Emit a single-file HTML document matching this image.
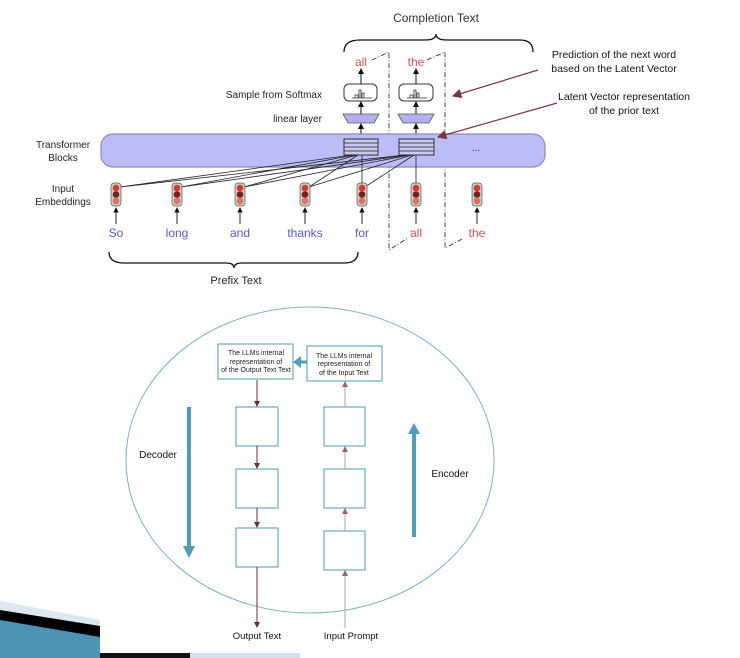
<!DOCTYPE html>
<html><head><style>
html,body{margin:0;padding:0;background:#fff;}
svg{display:block;font-family:"Liberation Sans",Arial,sans-serif;}
</style></head><body>
<svg width="740" height="658" viewBox="0 0 740 658" xmlns="http://www.w3.org/2000/svg">
<defs>
<marker id="ab" markerWidth="6" markerHeight="6" refX="5" refY="3" orient="auto"><path d="M0,0 L6,3 L0,6 z" fill="#111"/></marker>
<marker id="am" markerWidth="8" markerHeight="8" refX="7" refY="4" orient="auto"><path d="M0,0 L8,4 L0,8 z" fill="#7a3444"/></marker>
<marker id="ar" markerWidth="6" markerHeight="6" refX="5" refY="3" orient="auto"><path d="M0,0 L6,3 L0,6 z" fill="#6b2c3c"/></marker>
<marker id="ap" markerWidth="6" markerHeight="6" refX="5" refY="3" orient="auto"><path d="M0,0 L6,3 L0,6 z" fill="#a06070"/></marker>
</defs>

<!-- TOP DIAGRAM -->
<text x="436" y="22" font-size="12" text-anchor="middle" fill="#333">Completion Text</text>
<path d="M344,52 Q344,40 360,40 L425,40 Q436,40 436,34 Q436,40 447,40 L520,40 Q533,40 533,52" fill="none" stroke="#111" stroke-width="1.3"/>

<text x="361" y="66" font-size="12" text-anchor="middle" fill="#e05050">all</text>
<text x="416" y="66" font-size="12" text-anchor="middle" fill="#e05050">the</text>

<!-- dash-dot verticals -->
<path d="M372,60 L389,52 L389,250 L408,238" fill="none" stroke="#333" stroke-width="0.9" stroke-dasharray="5,2,1,2"/>
<path d="M427,60 L445,52 L445,248 L464,238" fill="none" stroke="#333" stroke-width="0.9" stroke-dasharray="5,2,1,2"/>

<text x="322" y="98" font-size="10" text-anchor="end" fill="#222">Sample from Softmax</text>
<text x="322" y="122" font-size="10" text-anchor="end" fill="#222">linear layer</text>

<g stroke="#333" fill="#fff">
<rect x="344" y="84" width="33" height="17" rx="5"/>
<rect x="399" y="84" width="34" height="17" rx="5"/>
</g>
<g stroke="#333" stroke-width="0.8" fill="none">
<path d="M355,98 v-3 h3 v3 M359,98 v-8 h2 v8 M362,98 v-5 h2 v5 M352,98 h20"/>
<path d="M410,98 v-3 h3 v3 M414,98 v-8 h2 v8 M417,98 v-5 h2 v5 M407,98 h20"/>
</g>
<polygon points="343,114 379,114 374,123 348,123" fill="#b3b0ee" stroke="#555" stroke-width="0.8"/>
<polygon points="398,114 434,114 429,123 403,123" fill="#b3b0ee" stroke="#555" stroke-width="0.8"/>
<g stroke="#111" stroke-width="1" marker-end="url(#ab)">
<line x1="361" y1="84" x2="361" y2="69"/><line x1="416" y1="84" x2="416" y2="69"/>
<line x1="361" y1="114" x2="361" y2="102"/><line x1="416" y1="114" x2="416" y2="102"/>
<line x1="361" y1="139" x2="361" y2="124"/><line x1="416" y1="139" x2="416" y2="124"/>
</g>

<text x="63" y="148" font-size="10" text-anchor="middle" fill="#222">Transformer</text>
<text x="63" y="161" font-size="10" text-anchor="middle" fill="#222">Blocks</text>
<rect x="101" y="134" width="444" height="33" rx="12" fill="#bcbcf6" stroke="#8a8ab8" stroke-width="1.2"/>
<text x="476" y="151" font-size="10" text-anchor="middle" fill="#333">...</text>

<g fill="#c9c9f3" stroke="#222" stroke-width="0.9">
<rect x="344" y="139" width="34" height="16"/><rect x="399" y="139" width="35" height="16"/>
</g>
<g stroke="#222" stroke-width="0.8">
<line x1="344" y1="143" x2="378" y2="143"/><line x1="344" y1="147" x2="378" y2="147"/><line x1="344" y1="151" x2="378" y2="151"/>
<line x1="399" y1="143" x2="434" y2="143"/><line x1="399" y1="147" x2="434" y2="147"/><line x1="399" y1="151" x2="434" y2="151"/>
</g>
<!-- attention lines -->
<g stroke="#222" stroke-width="0.8">
<line x1="120" y1="187" x2="352" y2="155"/><line x1="120" y1="187" x2="405" y2="155"/>
<line x1="181" y1="187" x2="355" y2="155"/><line x1="181" y1="187" x2="408" y2="155"/>
<line x1="244" y1="187" x2="357" y2="155"/><line x1="244" y1="187" x2="410" y2="155"/>
<line x1="309" y1="187" x2="358" y2="155"/><line x1="309" y1="187" x2="412" y2="155"/>
<line x1="365" y1="187" x2="414" y2="155"/>
<line x1="362" y1="183" x2="362" y2="155"/><line x1="416" y1="183" x2="416" y2="155"/>
</g>

<text x="63" y="192" font-size="10" text-anchor="middle" fill="#222">Input</text>
<text x="63" y="205" font-size="10" text-anchor="middle" fill="#222">Embeddings</text>

<g id="tl">
</g>
<g>
<g transform="translate(116,0)"><rect x="-5" y="183" width="10" height="23" rx="3" fill="#ccc" stroke="#555" stroke-width="0.7"/><circle cy="188" r="3.3" fill="#d83a2a"/><circle cy="194.5" r="3.3" fill="#7a1f1a"/><circle cy="201" r="3.3" fill="#e07060"/></g>
<g transform="translate(177,0)"><rect x="-5" y="183" width="10" height="23" rx="3" fill="#ccc" stroke="#555" stroke-width="0.7"/><circle cy="188" r="3.3" fill="#d83a2a"/><circle cy="194.5" r="3.3" fill="#7a1f1a"/><circle cy="201" r="3.3" fill="#e07060"/></g>
<g transform="translate(240,0)"><rect x="-5" y="183" width="10" height="23" rx="3" fill="#ccc" stroke="#555" stroke-width="0.7"/><circle cy="188" r="3.3" fill="#d83a2a"/><circle cy="194.5" r="3.3" fill="#7a1f1a"/><circle cy="201" r="3.3" fill="#e07060"/></g>
<g transform="translate(305,0)"><rect x="-5" y="183" width="10" height="23" rx="3" fill="#ccc" stroke="#555" stroke-width="0.7"/><circle cy="188" r="3.3" fill="#d83a2a"/><circle cy="194.5" r="3.3" fill="#7a1f1a"/><circle cy="201" r="3.3" fill="#e07060"/></g>
<g transform="translate(362,0)"><rect x="-5" y="183" width="10" height="23" rx="3" fill="#ccc" stroke="#555" stroke-width="0.7"/><circle cy="188" r="3.3" fill="#d83a2a"/><circle cy="194.5" r="3.3" fill="#7a1f1a"/><circle cy="201" r="3.3" fill="#e07060"/></g>
<g transform="translate(416,0)"><rect x="-5" y="183" width="10" height="23" rx="3" fill="#ccc" stroke="#555" stroke-width="0.7"/><circle cy="188" r="3.3" fill="#d83a2a"/><circle cy="194.5" r="3.3" fill="#7a1f1a"/><circle cy="201" r="3.3" fill="#e07060"/></g>
<g transform="translate(477,0)"><rect x="-5" y="183" width="10" height="23" rx="3" fill="#ccc" stroke="#555" stroke-width="0.7"/><circle cy="188" r="3.3" fill="#d83a2a"/><circle cy="194.5" r="3.3" fill="#7a1f1a"/><circle cy="201" r="3.3" fill="#e07060"/></g>
</g>
<g stroke="#111" stroke-width="0.9" marker-end="url(#ab)">
<line x1="116" y1="224" x2="116" y2="208"/><line x1="177" y1="224" x2="177" y2="208"/><line x1="240" y1="224" x2="240" y2="208"/>
<line x1="305" y1="224" x2="305" y2="208"/><line x1="362" y1="224" x2="362" y2="208"/><line x1="416" y1="224" x2="416" y2="208"/><line x1="477" y1="224" x2="477" y2="208"/>
</g>
<g font-size="12" text-anchor="middle">
<text x="116" y="237" fill="#5555ee">So</text><text x="177" y="237" fill="#5555ee">long</text><text x="240" y="237" fill="#5555ee">and</text>
<text x="305" y="237" fill="#5555ee">thanks</text><text x="362" y="237" fill="#5555ee">for</text>
<text x="416" y="237" fill="#e05050">all</text><text x="477" y="237" fill="#e05050">the</text>
</g>
<path d="M109,252 Q109,263 124,263 L226,263 Q234,263 234,268 Q234,263 242,263 L344,263 Q358,263 358,252" fill="none" stroke="#111" stroke-width="1.3"/>
<text x="236" y="284" font-size="11" text-anchor="middle" fill="#222">Prefix Text</text>

<text x="614" y="58" font-size="10.5" text-anchor="middle" fill="#111">Prediction of the next word</text>
<text x="614" y="72" font-size="10.5" text-anchor="middle" fill="#111">based on the Latent Vector</text>
<line x1="538" y1="70" x2="453" y2="96" stroke="#7a3444" stroke-width="1.2" marker-end="url(#am)"/>
<text x="624" y="100" font-size="10.5" text-anchor="middle" fill="#111">Latent Vector representation</text>
<text x="624" y="114" font-size="10.5" text-anchor="middle" fill="#111">of the prior text</text>
<line x1="557" y1="103" x2="438" y2="137" stroke="#7a3444" stroke-width="1.2" marker-end="url(#am)"/>

<!-- BOTTOM DIAGRAM -->
<ellipse cx="310" cy="460" rx="184" ry="153" fill="none" stroke="#7ab4cc" stroke-width="1"/>
<g fill="#fff" stroke="#6aa9c2" stroke-width="1.2">
<rect x="218" y="344" width="75" height="35"/>
<rect x="307" y="346" width="75" height="35"/>
<rect x="236" y="407" width="42" height="39"/><rect x="236" y="469" width="42" height="39"/><rect x="236" y="528" width="42" height="39"/>
<rect x="324" y="407" width="41" height="39"/><rect x="324" y="469" width="41" height="39"/><rect x="324" y="531" width="41" height="39"/>
</g>
<g font-size="7" text-anchor="middle" fill="#222">
<text x="256" y="355">The LLMs internal</text><text x="256" y="364">representation of</text><text x="256" y="372">of the Output Text Text</text>
<text x="344" y="358">The LLMs internal</text><text x="344" y="366">representation of</text><text x="344" y="375">of the Input Text</text>
</g>
<!-- blue connector -->
<line x1="307" y1="362" x2="300" y2="362" stroke="#4f9dbb" stroke-width="3"/>
<polygon points="293,362 301,356 301,368" fill="#4f9dbb"/>
<!-- decoder/encoder arrows -->
<line x1="189" y1="407" x2="189" y2="546" stroke="#4f9dbb" stroke-width="4"/>
<polygon points="183,546 195,546 189,558" fill="#4f9dbb"/>
<line x1="414" y1="537" x2="414" y2="434" stroke="#4f9dbb" stroke-width="4"/>
<polygon points="408,434 420,434 414,423" fill="#4f9dbb"/>
<text x="158" y="458" font-size="10" text-anchor="middle" fill="#111">Decoder</text>
<text x="450" y="477" font-size="10" text-anchor="middle" fill="#111">Encoder</text>
<!-- decoder lines -->
<g stroke="#6b2c3c" stroke-width="1" marker-end="url(#ar)">
<line x1="257" y1="380" x2="257" y2="406"/><line x1="257" y1="446" x2="257" y2="468"/><line x1="257" y1="508" x2="257" y2="527"/><line x1="257" y1="567" x2="257" y2="627"/>
</g>
<g stroke="#c49aa5" stroke-width="1" marker-end="url(#ap)">
<line x1="345" y1="628" x2="345" y2="571"/><line x1="345" y1="531" x2="345" y2="509"/><line x1="345" y1="469" x2="345" y2="447"/><line x1="345" y1="407" x2="345" y2="382"/>
</g>
<text x="257" y="639" font-size="9.5" text-anchor="middle" fill="#111">Output Text</text>
<text x="351" y="639" font-size="9.5" text-anchor="middle" fill="#111">Input Prompt</text>

<!-- corner decoration -->
<polygon points="0,601 100,620 100,658 0,658" fill="#dbe8f0"/>
<polygon points="0,610 100,626 100,658 0,658" fill="#000"/>
<polygon points="0,620 100,637 100,658 0,658" fill="#4f93b3"/>
<rect x="100" y="653" width="90" height="5" fill="#111"/>
<rect x="190" y="653" width="110" height="5" fill="#cfe1ec"/>
</svg>
</body></html>
